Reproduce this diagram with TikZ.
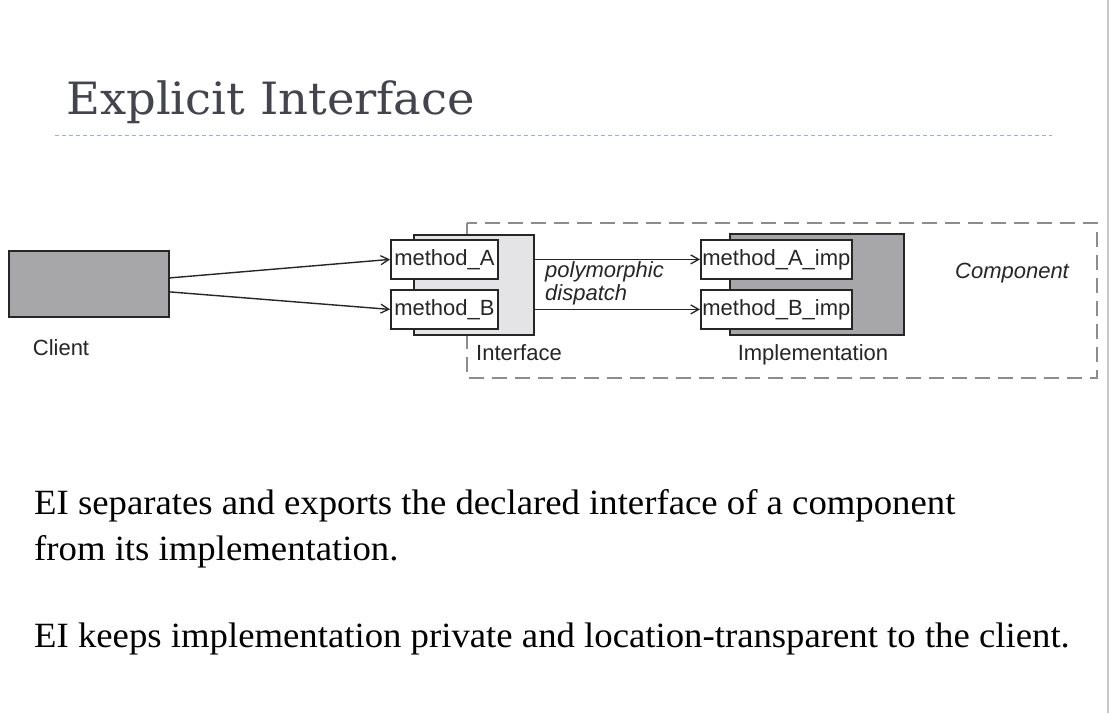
\documentclass[tikz,border=0pt]{standalone}
\usepackage{fontspec}
\newfontfamily\bodyfont[FakeStretch=1.035]{Liberation Serif}
\newfontfamily\diafont{Liberation Sans}
\newfontfamily\titlefont[FakeStretch=1.044]{DejaVu Serif}
\usetikzlibrary{arrows.meta}
\definecolor{titlecol}{HTML}{44444F}
\definecolor{rulecol}{HTML}{9FB2C2}
\definecolor{darkfill}{HTML}{A7A7A9}
\definecolor{lightfill}{HTML}{E4E4E6}
\definecolor{linecol}{HTML}{262626}
\definecolor{dashcol}{HTML}{8C8C8C}
\tikzset{
  dtext/.style={font=\diafont\fontsize{22}{26}\selectfont, text=linecol, inner sep=0pt},
  mbox/.style={draw=linecol, line width=1.8pt, fill=white, anchor=north west, inner sep=0pt,
    font=\diafont\fontsize{22}{26}\selectfont, text=linecol},
  backbox/.style={draw=linecol, line width=1.8pt, anchor=north west, inner sep=0pt},
  conn/.style={draw=linecol, line width=1.4pt, -{Straight Barb[length=8pt,width=9pt,line width=1.3pt]}},
  bodytext/.style={font=\bodyfont\fontsize{35.5}{40}\selectfont, anchor=base west, inner sep=0pt, text=black}
}
\begin{document}
\begin{tikzpicture}[x=1pt,y=-1pt]
\useasboundingbox (0,0) rectangle (1109,713);
\fill[white] (0,0) rectangle (1109,713);
\draw[color=black!22, line width=2pt] (1108,0) -- (1108,713);
% title
\node[anchor=base west, inner sep=0pt, text=titlecol, font=\titlefont\fontsize{44.5}{52}\selectfont] (title) at (66,114) {Explicit Interface};
\coordinate (ruleL) at (55,135);
\coordinate (ruleR) at (1052,135);
\draw[rulecol, line width=1pt, dash pattern=on 4pt off 3pt] (ruleL) -- (ruleR);
% component dashed box
\coordinate (compNW) at (467,223);
\coordinate (compSE) at (1097,378);
\draw[dashcol, line width=1.3pt, dash pattern=on 15pt off 8pt, dash phase=4pt] (compNW) rectangle (compSE);
% client
\node[backbox, fill=darkfill, minimum width=160pt, minimum height=66pt] (client) at (8,250) {};
\node[dtext] (clientlbl) at (61,348) {Client};
% interface
\node[backbox, fill=lightfill, minimum width=120pt, minimum height=100pt] (iface) at (413,234) {};
\node[mbox, minimum width=107pt, minimum height=39pt] (ma) at (390,239) {method\_A};
\node[mbox, minimum width=107pt, minimum height=39pt] (mb) at (390,289) {method\_B};
\node[dtext, anchor=west] (ifacelbl) at (476,353) {Interface};
% implementation
\node[backbox, fill=darkfill, minimum width=174pt, minimum height=101pt] (impl) at (729,233) {};
\node[mbox, minimum width=151pt, minimum height=39pt] (mai) at (700,239) {method\_A\_imp};
\node[mbox, minimum width=151pt, minimum height=39pt] (mbi) at (700,289) {method\_B\_imp};
\node[dtext] (impllbl) at (813,355) {Implementation};
\node[dtext, font=\diafont\itshape\fontsize{22}{26}\selectfont] (complbl) at (1012,273) {Component};
\node[dtext, font=\diafont\itshape\fontsize{22}{23}\selectfont, anchor=north west, align=left] (poly) at (545,261) {polymorphic\\dispatch};
% connectors
\draw[conn] ([yshift=6pt]client.east) -- (ma.west);
\draw[conn] ([yshift=-8pt]client.east) -- (mb.west);
\draw[conn] (ma.west -| iface.east) -- (mai.west);
\draw[conn] (mb.west -| iface.east) -- (mbi.west);
% body text
\node[bodytext] (t1) at (34,514) {EI separates and exports the declared interface of a component};
\node[bodytext] (t2) at (34,560) {from its implementation.};
\node[bodytext] (t3) at (34,647) {EI keeps implementation private and location-transparent to the client.};
\end{tikzpicture}
\end{document}
